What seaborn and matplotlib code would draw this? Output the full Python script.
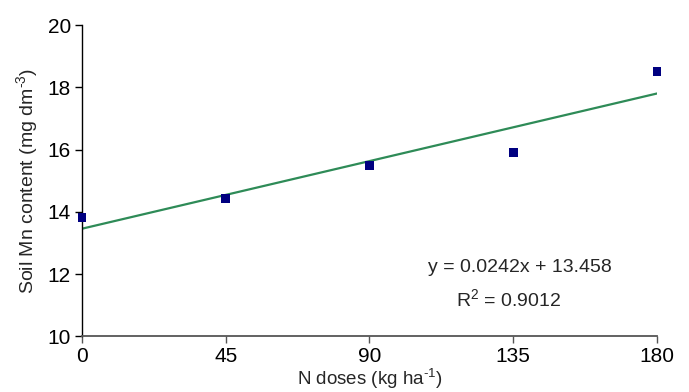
import seaborn as sns
import matplotlib.pyplot as plt
import pandas as pd

# data
n_doses = [0, 45, 90, 135, 180]
mn_content = [13.82, 14.43, 15.48, 15.91, 18.51]
x_ticks = [0, 45, 90, 135, 180]
y_ticks = [10, 12, 14, 16, 18, 20]

df = pd.DataFrame({"dose": n_doses, "mn": mn_content})

sns.set_style("white")
plt.rcParams["font.family"] = ["Liberation Sans", "DejaVu Sans"]
plt.rcParams["mathtext.fontset"] = "custom"
plt.rcParams["mathtext.rm"] = "Liberation Sans"

fig = plt.figure(figsize=(6.89, 3.92), dpi=100)
ax = fig.add_axes([0.119, 0.142, 0.8345, 0.794])

# linear trend line + measured points
sns.regplot(data=df, x="dose", y="mn", scatter=False, ci=None, truncate=True,
            line_kws={"color": "#2e8b57", "lw": 1.6}, ax=ax)
sns.scatterplot(data=df, x="dose", y="mn", marker="s", s=40, color="#000080",
                edgecolor="none", ax=ax, clip_on=False, zorder=5)

ax.set_xlim(0, 180)
ax.set_ylim(10, 20)
ax.set_xticks(x_ticks)
ax.set_yticks(y_ticks)
ax.tick_params(axis="both", labelsize=15, direction="out", length=5, width=1, left=True, bottom=True)
ax.tick_params(axis="x", colors="#555555", labelcolor="black", pad=2.5)
ax.tick_params(axis="y", colors="black", pad=3)

for side in ["top", "right"]:
    ax.spines[side].set_visible(False)
ax.spines["left"].set_color("black")
ax.spines["bottom"].set_color("#555555")
ax.spines["left"].set_linewidth(1)
ax.spines["bottom"].set_linewidth(1.3)

ax.set_xlabel(r"N doses (kg ha$^{\text{-1}}$)", fontsize=13.5, labelpad=0)
ax.set_ylabel(r"Soil Mn content (mg dm$^{\text{-3}}$)", fontsize=14, labelpad=5)

ax.text(137.0, 12.2, "y = 0.0242x + 13.458", fontsize=14, ha="center", va="center")
ax.text(133.5, 11.18, "R$^2$ = 0.9012", fontsize=14, ha="center", va="center")

fig.savefig("out.png", dpi=100)
